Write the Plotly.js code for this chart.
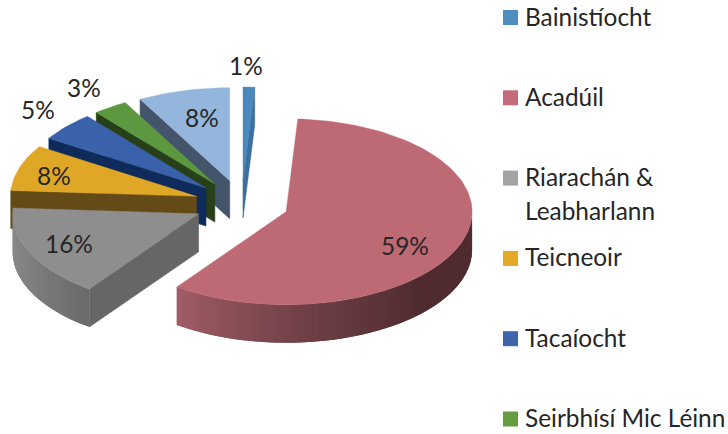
<!DOCTYPE html>
<html><head><meta charset="utf-8">
<script src="https://cdn.plot.ly/plotly-3.0.1.min.js"></script>
<style>html,body{margin:0;padding:0;background:#fff}#c{width:728px;height:434px}</style>
</head><body><div id="c"></div>
<script>
// ---- data ----
var categories = ['Bainistíocht','Acadúil','Riarachán &<br>Leabharlann','Teicneoir','Tacaíocht','Seirbhísí Mic Léinn',''];
var values = [1,59,16,8,5,3,8];
// ---- styles ----
var topColors  = ['#4a88bd','#bd6a74','#8e8e8e','#e0a726','#3a62aa','#5b983f','#94b6dc'];
var faceColors = ['#3b6f9f','#5a3035','#666666','#644a17','#0f2b5c','#28401a','#44546a'];
var legendColors = ['#4f8cbf','#c36b79','#a3a3a6','#e2a925','#3e65ab','#659b41'];
// arc-wall gradient stops: [angle in degrees, colour], per slice index
var wallStops = {
  1: [[90,[79,43,47]],[135,[79,43,47]],[175,[112,64,70]],[216,[160,92,103]]],
  2: [[216,[106,106,106]],[240,[124,124,124]],[270,[140,140,140]]]
};
// ---- projection ----
var CX = 241.5, CY = 203.7, RX = 186, RY = 93, DEPTH = 38, PULL = 0.255;
var rad = function(d){ return d*Math.PI/180; };
var total = values.reduce(function(a,b){return a+b;},0);
function apex(mid){ return [CX+PULL*RX*Math.sin(rad(mid)), CY-PULL*RY*Math.cos(rad(mid))]; }
function rim(a,deg){ return [a[0]+RX*Math.sin(rad(deg)), a[1]-RY*Math.cos(rad(deg))]; }
function poly(pts,color,lw){
  var xs=pts.map(function(p){return p[0];}), ys=pts.map(function(p){return p[1];});
  xs.push(xs[0]); ys.push(ys[0]);
  return {type:'scatter',mode:'lines',x:xs,y:ys,fill:'toself',fillcolor:color,
    line:{color:color,width:lw===undefined?0.6:lw},hoverinfo:'skip',showlegend:false};
}
function stopColor(stops,deg){
  for(var i=0;i<stops.length-1;i++){
    if(deg<=stops[i+1][0]){
      var t=(deg-stops[i][0])/(stops[i+1][0]-stops[i][0]);
      var c=stops[i][1].map(function(v,k){return Math.round(v+t*(stops[i+1][1][k]-v));});
      return 'rgb('+c.join(',')+')';
    }
  }
  return 'rgb('+stops[stops.length-1][1].join(',')+')';
}
var traces=[];
var sliceTraces=[];
var cum=0;
values.forEach(function(v,i){
  var s=cum/total*360, e=(cum+v)/total*360; cum+=v;
  var a=apex((s+e)/2), list=[];
  // visible cut faces
  [[s,Math.sin(rad(s))<0],[e,Math.sin(rad(e))>0]].forEach(function(f){
    if(f[1]){
      var p=rim(a,f[0]);
      list.push(poly([a,p,[p[0],p[1]+DEPTH],[a[0],a[1]+DEPTH]],faceColors[i]));
    }
  });
  // outer wall: each band runs on to the end of the next band, so later bands
  // paint over the earlier edge and no white shows through the joins
  var lo=Math.max(s,90), hi=Math.min(e,270);
  if(hi>lo && wallStops[i]){
    var n=Math.ceil((hi-lo)/2);
    for(var k=0;k<n;k++){
      var d0=lo+(hi-lo)*k/n, dm=lo+(hi-lo)*(k+1)/n, d1=lo+(hi-lo)*Math.min(k+2,n)/n;
      var wall=[], q;
      for(q=0;q<=6;q++) wall.push(rim(a,d0+(d1-d0)*q/6));
      for(q=6;q>=0;q--){ var r=rim(a,d0+(d1-d0)*q/6); wall.push([r[0],r[1]+DEPTH]); }
      list.push(poly(wall,stopColor(wallStops[i],(d0+dm)/2),0));
    }
  }
  // top face
  var pts=[a], m=Math.max(2,Math.ceil((e-s)/1.5));
  for(var j=0;j<=m;j++) pts.push(rim(a,s+(e-s)*j/m));
  list.push(poly(pts,topColors[i],0.4));
  sliceTraces[i]=list;
});
// back-to-front painter order
[6,5,4,3,2,0,1].forEach(function(i){ traces=traces.concat(sliceTraces[i]); });

// legend keys
var LEG_X=510.5, LEG_Y0=17.5, LEG_STEP=80.3;
var named=categories.filter(function(c){return c;});
traces.push({type:'scatter',mode:'markers',
  x:named.map(function(){return LEG_X;}),
  y:named.map(function(_,i){return LEG_Y0+i*LEG_STEP;}),
  marker:{symbol:'square',size:15,color:legendColors,line:{width:0}},hoverinfo:'skip',showlegend:false});

var FONT={family:'Lato, Carlito, sans-serif',size:24.4,color:'#262626'};
var annotations=[];
function txt(t,x,y,anchor){
  annotations.push({text:t,x:x,y:y,xref:'x',yref:'y',showarrow:false,xanchor:anchor,yanchor:'middle',font:FONT,borderpad:0});
}
named.forEach(function(c,i){
  c.split('<br>').forEach(function(line,l){ txt(line,523.5,LEG_Y0+i*LEG_STEP+l*34-1.5,'left'); });
});
// percentage labels
var labelX=[246,405,69,54,38,84,202], labelY=[65.5,245,243,175,109,87,117];
values.forEach(function(v,i){ txt(v+'%',labelX[i],labelY[i],'center'); });

Plotly.newPlot('c',traces,{
  width:728,height:434,margin:{l:0,r:0,t:0,b:0},
  paper_bgcolor:'#fff',plot_bgcolor:'#fff',showlegend:false,
  xaxis:{range:[0,728],visible:false,fixedrange:true},
  yaxis:{range:[434,0],visible:false,fixedrange:true},
  annotations:annotations
},{staticPlot:true,displayModeBar:false});
</script></body></html>
